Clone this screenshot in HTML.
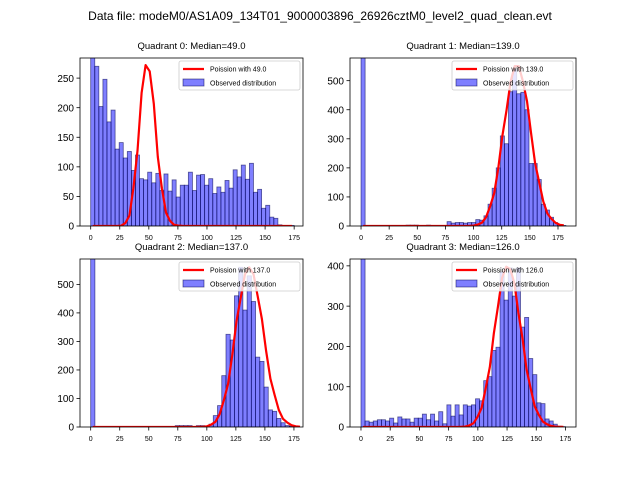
<!DOCTYPE html>
<html><head><meta charset="utf-8">
<style>
body{margin:0;background:#fff;}
svg{display:block;font-family:"Liberation Sans","DejaVu Sans",sans-serif;}
</style></head>
<body>
<svg id="fig" width="640" height="480" viewBox="0 0 640 480">
<rect width="640" height="480" fill="#fff"/>
<text x="320" y="20" text-anchor="middle" font-size="12">Data file: modeM0/AS1A09_134T01_9000003896_26926cztM0_level2_quad_clean.evt</text>
</svg>
<script>
const titles=["Quadrant 0: Median=49.0","Quadrant 1: Median=139.0","Quadrant 2: Median=137.0","Quadrant 3: Median=126.0"];
const medians=[49.0,139.0,137.0,126.0];
const binWidths=[3.5,3.64,3.64,3.5];
const curvePeaks=[272,550,560,398];
const counts0=[285,270,202,248,176,196,130,141,115,126,94,120,80,78,91,73,89,60,88,59,78,49,69,69,91,60,86,87,69,80,55,66,57,77,64,95,83,103,79,106,57,62,30,35,15,13,2,1,1,1];
const counts1=[600,0,0,0,0,0,0,0,0,0,0,3,3,3,2,2,3,2,2,2,2,15,10,12,12,10,12,12,22,20,35,75,130,200,310,283,462,540,455,460,400,215,215,160,75,55,30,12,5,2];
const counts2=[600,0,0,0,0,0,0,0,0,0,0,0,0,0,0,0,0,0,0,0,5,5,5,5,0,5,5,0,10,40,75,180,325,305,460,560,410,530,440,245,230,140,60,55,30,15,5,3,1,0];
const counts3=[420,15,12,15,18,18,15,22,10,25,20,20,12,22,22,32,18,32,15,38,8,55,27,55,30,55,52,55,70,65,115,125,190,198,385,315,395,325,395,248,272,170,130,60,58,20,15,7,2,1];
const yTicks0=[0,50,100,150,200,250];
const yTicks1=[0,100,200,300,400,500];
const yTicks2=[0,100,200,300,400,500];
const yTicks3=[0,100,200,300,400];
const xTicks=[0,25,50,75,100,125,150,175];
const allCounts=[counts0,counts1,counts2,counts3];
const allYTicks=[yTicks0,yTicks1,yTicks2,yTicks3];
const axesBox=[
 {l:80,r:303,t:58,b:226,x0:-9.2,x1:182.6,y1:284},
 {l:350,r:576,t:58,b:226,x0:-9.8,x1:191,y1:578},
 {l:80,r:303,t:259,b:427,x0:-9.2,x1:182.8,y1:589},
 {l:350,r:576,t:259,b:427,x0:-9.4,x1:184,y1:417}
];
const NS="http://www.w3.org/2000/svg";
const svg=document.getElementById('fig');
function mk(tag,attrs,parent){const e=document.createElementNS(NS,tag);for(const k in attrs)e.setAttribute(k,attrs[k]);(parent||svg).appendChild(e);return e;}
function logFact(n){let s=0;for(let i=2;i<=n;i++)s+=Math.log(i);return s;}
axesBox.forEach((A,q)=>{
 const g=mk('g',{});
 
 
 const sx=v=>A.l+(v-A.x0)/(A.x1-A.x0)*(A.r-A.l);
 const sy=v=>A.b-v/A.y1*(A.b-A.t);
 const clip=mk('clipPath',{id:'c'+q},g);
 mk('rect',{x:A.l,y:A.t,width:A.r-A.l,height:A.b-A.t},clip);
 const bars=mk('g',{'clip-path':'url(#c'+q+')'},g);
 const bw=binWidths[q];
 allCounts[q].forEach((c,i)=>{
  const x=sx(i*bw),w=sx((i+1)*bw)-x,y=sy(Math.min(c,A.y1*1.02));
  const r=mk('rect',{x:x,y:y,width:w,height:A.b-y,fill:'rgba(0,0,255,0.5)',stroke:'rgba(0,0,80,0.6)','stroke-width':0.8},bars);
  
  
 });
 // poisson curve
 const mu=medians[q];const n=allCounts[q].length;const vals=[];
 for(let i=0;i<n;i++){const k=Math.round((i+0.5)*bw);vals.push(Math.exp(k*Math.log(mu)-mu-logFact(k)));}
 const mx=Math.max(...vals);
 let d='';vals.forEach((v,i)=>{d+=(i?'L':'M')+sx((i+0.5)*bw).toFixed(1)+','+sy(v/mx*curvePeaks[q]).toFixed(1);});
 const p=mk('path',{d:d,fill:'none',stroke:'red','stroke-width':2.2,'stroke-linejoin':'round','clip-path':'url(#c'+q+')'},g);
 
 
 const fr=mk('rect',{x:A.l,y:A.t,width:A.r-A.l,height:A.b-A.t,fill:'none',stroke:'#000','stroke-width':0.8},g);
 
 
 xTicks.forEach(t=>{
  const x=sx(t);mk('line',{x1:x,x2:x,y1:A.b,y2:A.b+3.5,stroke:'#000','stroke-width':0.8},g);
  const tx=mk('text',{x:x,y:A.b+14,'text-anchor':'middle','font-size':7},g);tx.textContent=t;
  
  
 });
 allYTicks[q].forEach(t=>{
  const y=sy(t);mk('line',{x1:A.l-3.5,x2:A.l,y1:y,y2:y,stroke:'#000','stroke-width':0.8},g);
  const tx=mk('text',{x:A.l-6,y:y+3.7,'text-anchor':'end','font-size':10},g);tx.textContent=t;
  
  
 });
 const ti=mk('text',{x:(A.l+A.r)/2,y:A.t-9,'text-anchor':'middle','font-size':9.5},g);ti.textContent=titles[q];
 
 
 // legend
 const lg=mk('g',{},g);
 
 
 const lx=A.r-124,ly=A.t+3;
 mk('rect',{x:lx,y:ly,width:121,height:29,rx:2,fill:'rgba(255,255,255,0.8)',stroke:'#ccc','stroke-width':0.8},lg);
 mk('line',{x1:lx+4,x2:lx+25,y1:ly+8,y2:ly+8,stroke:'red','stroke-width':2.2},lg);
 const t1=mk('text',{x:lx+31,y:ly+10.5,'font-size':7},lg);t1.textContent='Poission with '+medians[q].toFixed(1);
 
 
 mk('rect',{x:lx+4,y:ly+18,width:21,height:7,fill:'rgba(0,0,255,0.5)',stroke:'rgba(0,0,80,0.6)','stroke-width':0.8},lg);
 const t2=mk('text',{x:lx+31,y:ly+24.5,'font-size':7},lg);t2.textContent='Observed distribution';
 
 
});
</script>
</body></html>
